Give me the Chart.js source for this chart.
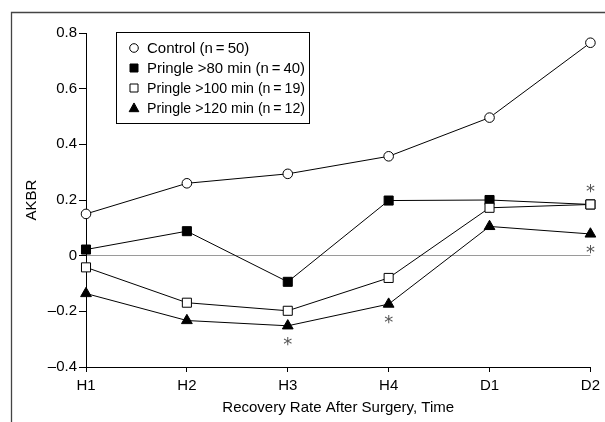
<!DOCTYPE html>
<html>
<head>
<meta charset="utf-8">
<script src="https://cdn.jsdelivr.net/npm/chart.js@4/dist/chart.umd.min.js"></script>
<style>
  html, body { margin: 0; padding: 0; background: #fff; }
  canvas { display: block; }
</style>
</head>
<body>
<canvas id="c" width="605" height="422"></canvas>
<script>
// ---- data ----
const categories = ['H1', 'H2', 'H3', 'H4', 'D1', 'D2'];
const seriesNames = ['Control (n\u2009=\u200950)', 'Pringle >80 min (n\u2009=\u200940)', 'Pringle >100 min (n\u2009=\u200919)', 'Pringle >120 min (n\u2009=\u200912)'];
const controlValues = [0.15, 0.26, 0.294, 0.357, 0.496, 0.765];
const pringle80Values = [0.022, 0.088, -0.094, 0.198, 0.2, 0.184];
const pringle100Values = [-0.042, -0.169, -0.198, -0.08, 0.172, 0.184];
const pringle120Values = [-0.136, -0.233, -0.252, -0.174, 0.105, 0.078];
const yTickValues = [-0.4, -0.2, 0, 0.2, 0.4, 0.6, 0.8];
// significance marks: which series / category, and whether above or below the point
const asteriskMarks = [
  { series: 3, category: 'H3', side: 'below' },
  { series: 3, category: 'H4', side: 'below' },
  { series: 2, category: 'D2', side: 'above' },
  { series: 3, category: 'D2', side: 'below' }
];

const FONT = '"Liberation Sans", Arial, sans-serif';
const FS = 15;

const markerStyles = [
  { pointStyle: 'circle', fill: '#ffffff', radius: 4.8 },
  { pointStyle: 'rect', fill: '#000000', radius: 6.4 },
  { pointStyle: 'rect', fill: '#ffffff', radius: 6.4 },
  { pointStyle: 'triangle', fill: '#000000', radius: 6.2 }
];
const seriesValues = [controlValues, pringle80Values, pringle100Values, pringle120Values];

const datasets = seriesValues.map((vals, i) => ({
  label: seriesNames[i],
  data: vals,
  borderColor: '#000',
  borderWidth: 1,
  pointStyle: markerStyles[i].pointStyle,
  pointRadius: markerStyles[i].radius,
  pointBackgroundColor: markerStyles[i].fill,
  pointBorderColor: '#000',
  pointBorderWidth: 1,
  tension: 0,
  fill: false,
  order: 3 - i
}));

function fmt(v) {
  const r = Math.round(v * 10) / 10;
  if (r === 0) return '0';
  const s = Math.abs(r).toFixed(1);
  return (r < 0 ? '\u2013' : '') + s;
}

function drawMarker(ctx, style, fill, x, y, r) {
  ctx.save();
  ctx.fillStyle = fill;
  ctx.strokeStyle = '#000';
  ctx.lineWidth = 1;
  ctx.beginPath();
  if (style === 'circle') {
    ctx.arc(x, y, r, 0, Math.PI * 2);
  } else if (style === 'rect') {
    ctx.rect(x - r, y - r, 2 * r, 2 * r);
  } else {
    ctx.moveTo(x, y - r * 1.1);
    ctx.lineTo(x + r * 1.05, y + r * 0.8);
    ctx.lineTo(x - r * 1.05, y + r * 0.8);
    ctx.closePath();
  }
  ctx.fill();
  ctx.stroke();
  ctx.restore();
}

const framePlugin = {
  id: 'frame',
  beforeDraw(chart) {
    const ctx = chart.ctx;
    ctx.save();
    ctx.fillStyle = '#fff';
    ctx.fillRect(0, 0, chart.width, chart.height);
    ctx.strokeStyle = '#444';
    ctx.lineWidth = 1.3;
    ctx.beginPath();
    ctx.moveTo(11.5, chart.height);
    ctx.lineTo(11.5, 12.5);
    ctx.lineTo(chart.width, 12.5);
    ctx.stroke();
    ctx.restore();
  }
};

const extrasPlugin = {
  id: 'extras',
  afterDatasetsDraw(chart) {
    const ctx = chart.ctx;
    const xs = chart.scales.x, ys = chart.scales.y;
    // asterisks
    ctx.save();
    ctx.fillStyle = '#555';
    ctx.font = '18px "DejaVu Sans", sans-serif';
    ctx.textAlign = 'center';
    ctx.textBaseline = 'middle';
    asteriskMarks.forEach(m => {
      const idx = categories.indexOf(m.category);
      const v = seriesValues[m.series][idx];
      const px = xs.getPixelForValue(idx);
      const py = ys.getPixelForValue(v) + (m.side === 'below' ? 19.5 : -12);
      ctx.fillText('*', px, py);
    });
    ctx.restore();

    // legend box
    ctx.save();
    ctx.strokeStyle = '#000';
    ctx.lineWidth = 1;
    ctx.strokeRect(116.5, 32.5, 193, 91);
    ctx.font = FS + 'px ' + FONT;
    ctx.fillStyle = '#000';
    ctx.textAlign = 'left';
    ctx.textBaseline = 'middle';
    const legendSizes = [4.3, 4.0, 4.0, 4.6];
    seriesNames.forEach((name, i) => {
      const y = 48 + i * 20;
      drawMarker(ctx, markerStyles[i].pointStyle, markerStyles[i].fill, 134, y, legendSizes[i]);
      ctx.fillStyle = '#000';
      ctx.fillText(name, 147, y + 0.5, 158);
    });
    ctx.restore();
  }
};

new Chart(document.getElementById('c'), {
  type: 'line',
  data: { labels: categories, datasets },
  options: {
    responsive: false,
    devicePixelRatio: 1,
    animation: false,
    layout: { padding: { left: 0, top: 33, right: 13, bottom: 0 } },
    plugins: { legend: { display: false }, tooltip: { enabled: false } },
    elements: { line: { borderJoinStyle: 'miter' } },
    scales: {
      x: {
        type: 'category',
        offset: false,
        afterFit(scale) { scale.height = 55; },
        border: { display: true, color: '#000', width: 1 },
        grid: { drawOnChartArea: false, drawTicks: true, tickLength: 5, tickColor: '#000', tickWidth: 1 },
        ticks: { color: '#000', padding: 5, maxRotation: 0, font: { family: FONT, size: FS } },
        title: {
          display: true, text: 'Recovery Rate After Surgery, Time', color: '#000',
          font: { family: FONT, size: FS }, padding: { top: 0, bottom: 5 }
        }
      },
      y: {
        type: 'linear',
        min: -0.4, max: 0.8,
        afterFit(scale) { scale.width = 86; },
        afterBuildTicks(scale) { scale.ticks = yTickValues.map(v => ({ value: v })); },
        border: { display: true, color: '#000', width: 1 },
        grid: {
          drawOnChartArea: true,
          drawTicks: true,
          tickLength: 7,
          tickColor: '#000',
          color: ctx => (ctx.tick && Math.abs(ctx.tick.value) < 1e-9) ? '#9a9a9a' : 'rgba(0,0,0,0)',
          lineWidth: 1
        },
        ticks: {
          color: '#000', padding: 2, font: { family: FONT, size: FS },
          callback: v => fmt(v)
        },
        title: {
          display: true, text: 'AKBR', color: '#000',
          font: { family: FONT, size: FS }, padding: { top: 23, bottom: 0 }
        }
      }
    }
  },
  plugins: [framePlugin, extrasPlugin]
});
</script>
</body>
</html>
